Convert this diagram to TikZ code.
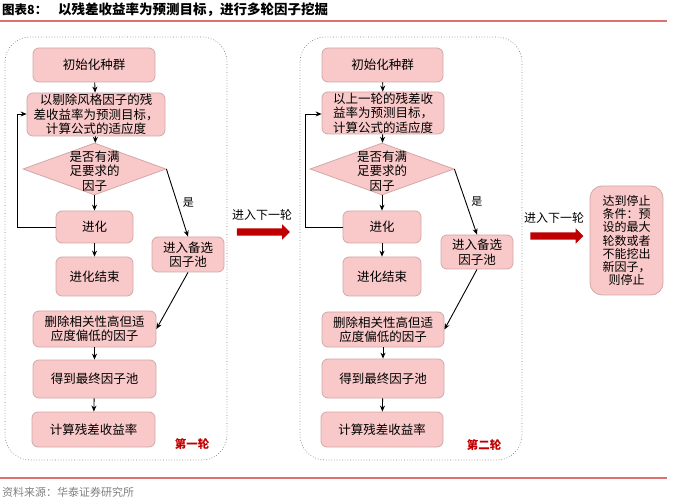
\documentclass[tikz,border=0pt]{standalone}
\usepackage{fontspec}
\setmainfont{Noto Sans CJK SC}
\usetikzlibrary{shapes.geometric,shapes.arrows,arrows.meta}
\definecolor{boxfill}{HTML}{F9C8C8}
\definecolor{boxdraw}{HTML}{D2A8A8}
\definecolor{darkred}{HTML}{C00000}
\definecolor{linered}{HTML}{E07070}
\tikzset{
  stepbox/.style={draw=boxdraw, fill=boxfill, rounded corners=6pt, line width=0.8pt, align=center, inner sep=0pt, font=\fontsize{12.5}{14.5}\selectfont},
  decide/.style={diamond, draw=boxdraw, fill=boxfill, line width=0.8pt, inner sep=0pt, minimum width=143pt, minimum height=52pt},
  flow/.style={-{Stealth[length=6pt,width=5pt]}, line width=0.9pt, black},
  frame/.style={draw=gray, dotted, line width=0.7pt, rounded corners=25pt},
  bigarrow/.style={single arrow, fill=darkred, draw=none, minimum height=53pt, minimum width=15pt, inner sep=3.5pt, single arrow head extend=4pt},
  roundlbl/.style={text=darkred, font=\bfseries\fontsize{11.5}{13}\selectfont},
  nextlbl/.style={font=\fontsize{12}{14}\selectfont},
}
\begin{document}
\begin{tikzpicture}[x=1pt,y=-1pt]
\useasboundingbox (0,0) rectangle (674,502);
% title
\node[anchor=west, inner sep=0pt, font=\bfseries\fontsize{12.5}{14}\selectfont] (t1) at (2,10) {图表8：};
\node[anchor=west, inner sep=0pt, font=\bfseries\fontsize{13.5}{14}\selectfont] (t2) at (58,10) {以残差收益率为预测目标，进行多轮因子挖掘};
\draw[linered, line width=1.2pt] (0,21) -- (667,21);
\draw[linered, line width=1.2pt] (0,478) -- (667,478);
\node[anchor=west, inner sep=0pt, text=gray, font=\fontsize{11}{12}\selectfont] (src) at (2,492) {资料来源：华泰证券研究所};

% frames
\draw[frame] (5,37) rectangle (227,460);
\draw[frame] (300,37) rectangle (522,460);

% panel 1
\node[stepbox, minimum width=122pt, minimum height=34pt] (a1) at (94,65) {初始化种群};
\node[stepbox, minimum width=138pt, minimum height=43pt] (b1) at (96,114.5) {以剔除风格因子的残\\差收益率为预测目标，\\计算公式的适应度};
\node[decide] (c1) at (94.5,169) {};
\node[align=center, inner sep=0pt, font=\fontsize{12.5}{14.5}\selectfont] (c1t) at (94.5,171) {是否有满\\足要求的\\因子};
\node[stepbox, minimum width=77pt, minimum height=32pt] (d1) at (94.5,227) {进化};
\node[stepbox, minimum width=77pt, minimum height=39pt] (e1) at (94.5,276.5) {进化结束};
\node[stepbox, minimum width=72pt, minimum height=35pt] (p1) at (188,254.5) {进入备选\\因子池};
\node[stepbox, minimum width=123pt, minimum height=36pt] (f1) at (94.5,329) {删除相关性高但适\\应度偏低的因子};
\node[stepbox, minimum width=123pt, minimum height=38pt] (g1) at (94.5,379) {得到最终因子池};
\node[stepbox, minimum width=123pt, minimum height=35pt] (h1) at (93.5,429.5) {计算残差收益率};
\node[roundlbl] (r1) at (192,444) {第一轮};
\coordinate (l1a) at (17,227);
\coordinate (l1b) at (17,114);
\draw[flow] (a1) -- (b1);
\draw[flow] (b1) -- (c1);
\draw[flow] (c1) -- (d1);
\draw[flow] (d1) -- (e1);
\draw[flow] (f1) -- (g1);
\draw[flow] (g1) -- (h1);
\draw[flow] (d1.west) -- (l1a) -- (l1b) -- (b1.west |- l1b);
\draw[flow] (c1.east) -- node[pos=0.5, right=2pt, font=\fontsize{11}{12}\selectfont] (y1) {是} (p1.north);
\draw[flow] (p1.south) -- (f1.east);

% arrow between panels
\node[nextlbl] (n1) at (262,215) {进入下一轮};
\node[bigarrow] (ar1) at (261.5,232) {};

% panel 2
\node[stepbox, minimum width=121pt, minimum height=34pt] (a2) at (382.5,65) {初始化种群};
\node[stepbox, minimum width=122pt, minimum height=42pt] (b2) at (383,113) {以上一轮的残差收\\益率为预测目标，\\计算公式的适应度};
\node[decide, minimum width=144pt] (c2) at (382,169) {};
\node[align=center, inner sep=0pt, font=\fontsize{12.5}{14.5}\selectfont] (c2t) at (382,171) {是否有满\\足要求的\\因子};
\node[stepbox, minimum width=78pt, minimum height=32pt] (d2) at (382,227) {进化};
\node[stepbox, minimum width=78pt, minimum height=39pt] (e2) at (382,276.5) {进化结束};
\node[stepbox, minimum width=72pt, minimum height=34pt] (p2) at (477,252) {进入备选\\因子池};
\node[stepbox, minimum width=122pt, minimum height=35pt] (f2) at (383,329.5) {删除相关性高但适\\应度偏低的因子};
\node[stepbox, minimum width=122pt, minimum height=39pt] (g2) at (383,378.5) {得到最终因子池};
\node[stepbox, minimum width=122pt, minimum height=35pt] (h2) at (382,429.5) {计算残差收益率};
\node[roundlbl] (r2) at (484,445) {第二轮};
\coordinate (l2a) at (305,227);
\coordinate (l2b) at (305,114);
\draw[flow] (a2) -- (b2);
\draw[flow] (b2) -- (c2);
\draw[flow] (c2) -- (d2);
\draw[flow] (d2) -- (e2);
\draw[flow] (f2) -- (g2);
\draw[flow] (g2) -- (h2);
\draw[flow] (d2.west) -- (l2a) -- (l2b) -- (b2.west |- l2b);
\draw[flow] (c2.east) -- node[pos=0.5, right=2pt, font=\fontsize{11}{12}\selectfont] (y2) {是} (p2.north);
\draw[flow] (p2.south) -- (f2.east);

% arrow to stop
\node[nextlbl] (n2) at (554,218) {进入下一轮};
\node[bigarrow] (ar2) at (555,236) {};
\node[stepbox, rounded corners=12pt, minimum width=73pt, minimum height=109pt, font=\fontsize{12}{13.2}\selectfont] (s) at (626.5,240.5) {达到停止\\条件：预\\设的最大\\轮数或者\\不能挖出\\新因子，\\则停止};
\end{tikzpicture}
\end{document}
